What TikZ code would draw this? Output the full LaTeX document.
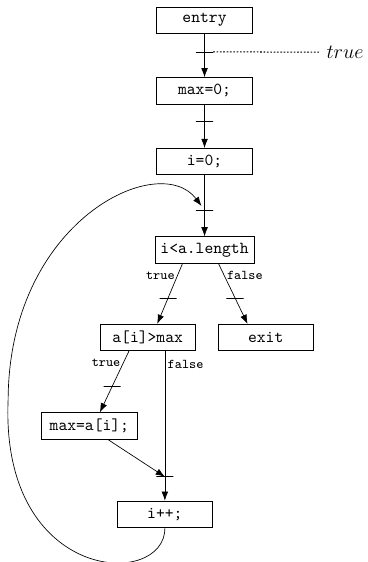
\documentclass[tikz,border=0pt]{standalone}
\usepackage{fontspec}
\usepackage{tikz}
\usetikzlibrary{arrows.meta}
\tikzset{
  blk/.style={ draw, rectangle, minimum width=2cm, minimum height=0.55cm, font=\ttfamily }
}
\tikzset{
  tck/.style={ draw, minimum width=0.36cm, minimum height=0pt, inner sep=0pt, outer sep=0pt }
}
\tikzset{
  lbl/.style={ font=\footnotesize\ttfamily, inner sep=1.5pt }
}
\begin{document}
\begin{tikzpicture}[>={Latex[length=5.5pt, width=4pt]}]
      \useasboundingbox (0,0) rectangle (7.70,-11.76);
      \node[blk] (entry) at (4.28, -0.42) {entry};
      \node[blk] (max0) at (4.28, -1.90) {max=0;};
      \node[blk] (i0) at (4.28, -3.38) {i=0;};
      \node[blk] (cond) at (4.28, -5.23) {i<a.length};
      \node[blk] (ifmax) at (3.09, -7.06) {a[i]>max};
      \node[blk] (exit) at (5.56, -7.06) {exit};
      \node[blk] (setmax) at (1.87, -8.91) {max=a[i];};
      \node[blk] (inc) at (3.45, -10.76) {i++;};
      \node[font=\large] (cond0) at (7.22, -1.09) {$true$};

      \draw[->] (entry) -- node[tck, pos=0.42] (t1) {} (max0);
      \draw[line width=0.6pt, dash pattern=on 1pt off 1pt] (t1.east) -- (cond0.west);
      \draw[->] (max0) -- node[tck, pos=0.4] (t2) {} (i0);
      \draw[->] (i0) -- node[tck, pos=0.57] (t3) {} (cond);

      % loop condition
      \draw[->] ([xshift=-0.46cm]cond.south) -- node[lbl, pos=0.2, left] (l1) {true}
        node[tck, pos=0.57] (t4) {} ([xshift=0.2cm]ifmax.north);
      \draw[->] ([xshift=0.29cm]cond.south) -- node[lbl, pos=0.2, right] (l2) {false}
        node[tck, pos=0.57] (t5) {} ([xshift=-0.38cm]exit.north);

      % if
      \draw[->] ([xshift=-0.39cm]ifmax.south) -- node[lbl, pos=0.2, left] (l3) {true}
        node[tck, pos=0.58] (t6) {} ([xshift=0.22cm]setmax.north);
      \draw[->] ([xshift=0.36cm]ifmax.south) -- node[lbl, pos=0.09, right] (l4) {false}
        node[tck, pos=0.84] (t7) {} (inc.north);
      \draw[->] ([xshift=0.38cm]setmax.south) -- (t7.center);

      % back edge
      \draw[->, shorten >=3pt] (inc.south) .. controls (3.47, -12.33) and (0, -12.23) .. (0.17, -8.36)
        .. controls (0.19, -4.60) and (3.34, -3.14) .. (t3.center);
    \end{tikzpicture}
\end{document}
